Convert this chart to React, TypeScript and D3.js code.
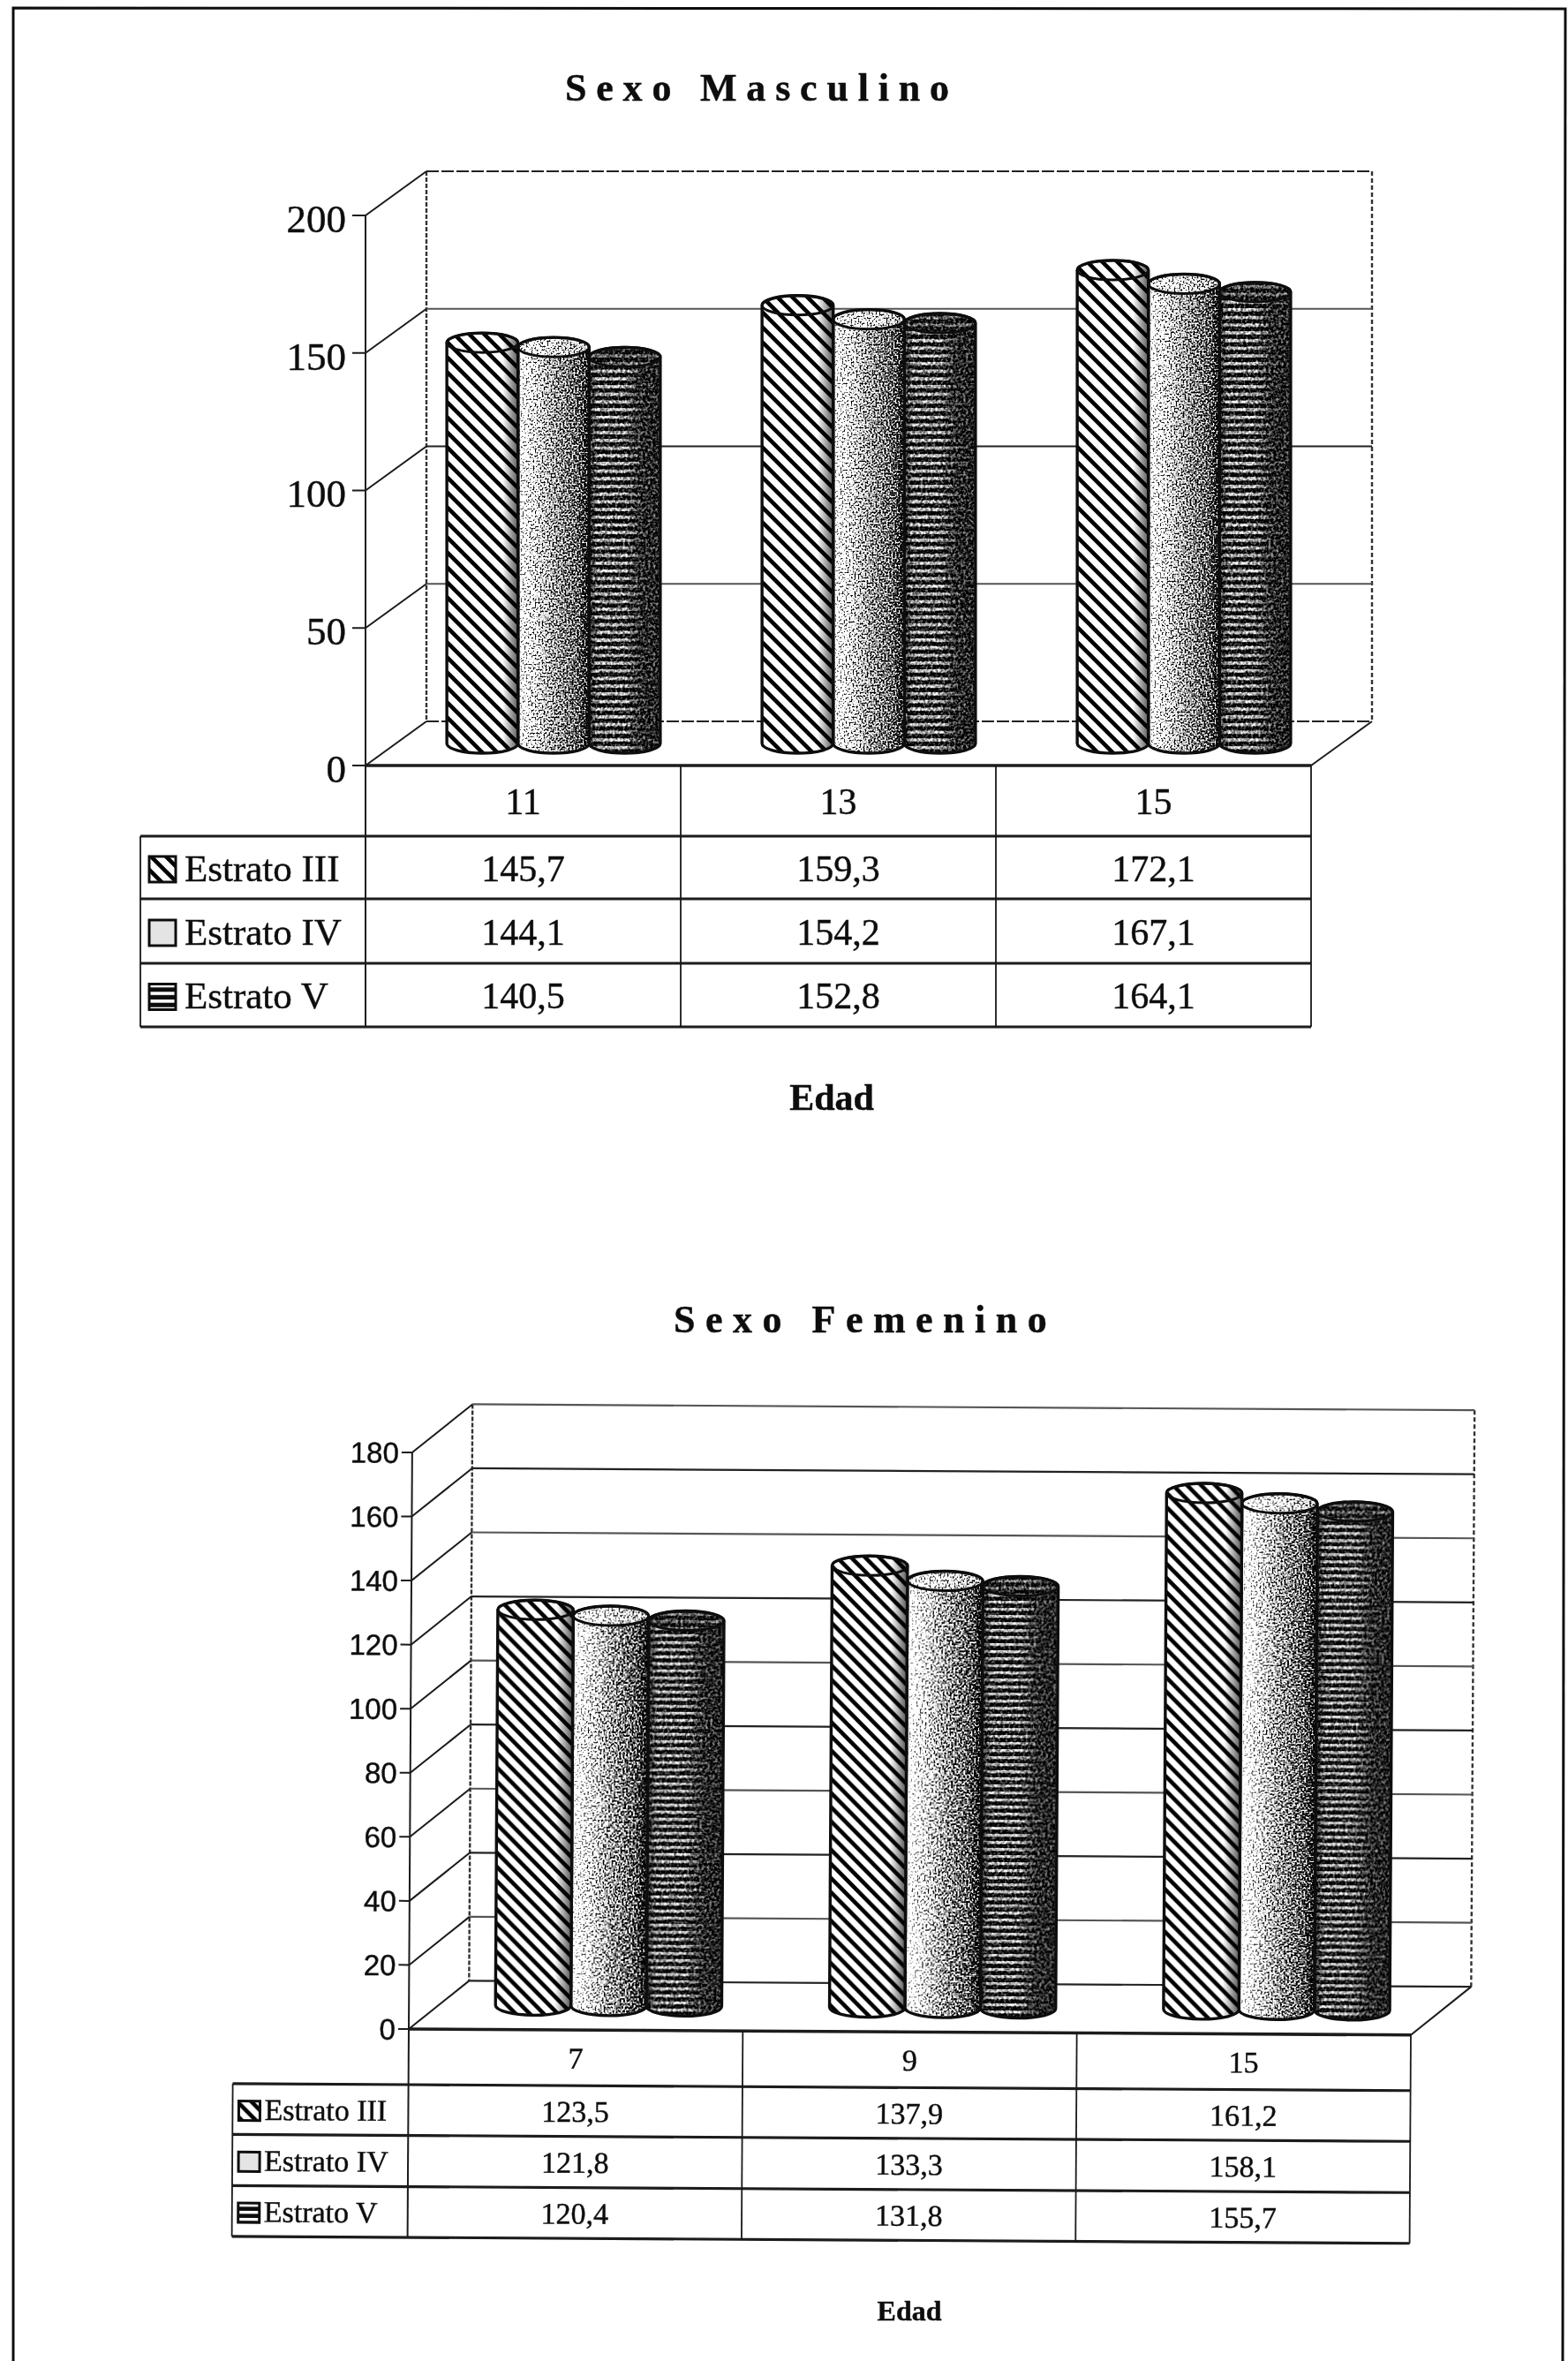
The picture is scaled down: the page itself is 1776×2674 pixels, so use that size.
import React from "react";
import * as d3 from "d3";

const seriesNames = ["Estrato III", "Estrato IV", "Estrato V"];

const maleAges = ["11", "13", "15"];
const maleIII = [145.7, 159.3, 172.1];
const maleIV = [144.1, 154.2, 167.1];
const maleV = [140.5, 152.8, 164.1];
const maleTicks = [0, 50, 100, 150, 200];

const femaleAges = ["7", "9", "15"];
const femaleIII = [123.5, 137.9, 161.2];
const femaleIV = [121.8, 133.3, 158.1];
const femaleV = [120.4, 131.8, 155.7];
const femaleTicks = [0, 20, 40, 60, 80, 100, 120, 140, 160, 180];

const fmt = (v: number) => d3.format(".1f")(v).replace(".", ",");
const SERIF = "'Liberation Serif', serif";
const SANS = "'Liberation Sans', sans-serif";

function cylinderPath(x0: number, x1: number, top: number, base: number, ry: number) {
  const rx = (x1 - x0) / 2;
  return `M${x0},${top}L${x0},${base}A${rx},${ry} 0 0 0 ${x1},${base}L${x1},${top}A${rx},${ry} 0 0 0 ${x0},${top}Z`;
}

function Patterns({ id, hatch, stripe }: any) {
  return (
    <>
      <pattern id={`${id}-hatch`} patternUnits="userSpaceOnUse" width={hatch} height={hatch}>
        <rect width={hatch} height={hatch} fill="#fff" />
        <path
          d={`M${-hatch},0L${hatch * 2},${hatch * 3}M0,${-hatch}L${hatch * 2},${hatch}M${-hatch},${-hatch}L${hatch},${hatch}`}
          stroke="#000"
          strokeWidth={4.6}
        />
      </pattern>
      <pattern id={`${id}-stripe`} patternUnits="userSpaceOnUse" width={8} height={stripe}>
        <rect width={8} height={stripe} fill="#0c0c0c" />
        <rect y={1} width={8} height={stripe * 0.42} fill="#fff" />
      </pattern>
    </>
  );
}

function Cylinder({ id, kind, x0, x1, top, base, ry, clip }: any) {
  const w = x1 - x0;
  const h = base - top + ry * 2 + 4;
  const path = cylinderPath(x0, x1, top, base, ry);
  const rx = w / 2;
  const cx = (x0 + x1) / 2;
  const stroke = "#111";
  const rectProps = { x: x0, y: top - ry - 2, width: w, height: h };
  const capProps = { x: x0, y: top - ry - 2, width: w, height: ry * 2 + 4 };
  return (
    <g>
      <clipPath id={clip}>
        <path d={path} />
      </clipPath>
      <clipPath id={`${clip}-cap`}>
        <ellipse cx={cx} cy={top} rx={rx} ry={ry} />
      </clipPath>
      <g clipPath={`url(#${clip})`}>
        {kind === 0 && (
          <>
            <rect {...rectProps} fill={`url(#${id}-hatch)`} />
            <rect {...rectProps} fill="url(#shadeHatch)" />
          </>
        )}
        {kind === 1 && <rect {...rectProps} fill="url(#shadeDots)" filter="url(#stipple)" />}
        {kind === 2 && (
          <g filter="url(#stippleSoft)">
            <rect {...rectProps} fill={`url(#${id}-stripe)`} />
            <rect {...rectProps} fill="url(#shadeStripe)" />
          </g>
        )}
      </g>
      <g clipPath={`url(#${clip}-cap)`}>
        {kind === 0 && (
          <>
            <rect {...capProps} fill={`url(#${id}-hatch)`} />
            <rect {...capProps} fill="url(#shadeHatch)" />
          </>
        )}
        {kind === 1 && <rect {...capProps} fill="url(#capDots)" filter="url(#stipple)" />}
        {kind === 2 && (
          <g filter="url(#stippleSoft)">
            <rect {...capProps} fill={`url(#${id}-stripe)`} />
            <rect {...capProps} fill="#222" fillOpacity={0.62} />
          </g>
        )}
      </g>
      <ellipse cx={cx} cy={top} rx={rx} ry={ry} fill="none" stroke={stroke} strokeWidth={3} />
      <path d={path} fill="none" stroke={stroke} strokeWidth={3.4} />
    </g>
  );
}

function Swatch({ id, kind, x, y, w, h }: any) {
  const fill = kind === 0 ? `url(#${id}-hatch)` : kind === 1 ? "#e4e4e4" : `url(#${id}-stripe)`;
  return <rect x={x} y={y} width={w} height={h} fill={fill} stroke="#111" strokeWidth={3} />;
}

function Chart({ id, ages, rows, ticks, g, transform }: any) {
  const y = d3.scaleLinear().domain([0, ticks[ticks.length - 1]]).range([g.y0, g.yTop]);
  const { dx, dy } = g;
  const xFront = d3.scaleBand<string>().domain(ages).range([g.xL, g.xR]);
  const xCyl = d3
    .scaleBand<string>()
    .domain(ages)
    .range([g.xL + dx / 2 + g.shift, g.xR + dx / 2 + g.shift]);
  const xSub = d3
    .scaleBand<string>()
    .domain(seriesNames)
    .range([0, xCyl.bandwidth()])
    .paddingInner(0)
    .paddingOuter(0.715);
  const lineCol = "#1a1a1a";
  return (
    <g transform={transform}>
      {/* back wall and floor */}
      <g fill="none" stroke={lineCol}>
        <path d={`M${g.xL + dx},${y(ticks[ticks.length - 1]) + dy}V${g.y0 + dy}`} strokeWidth={2.4} strokeDasharray="5 2" stroke="#333" />
        <path d={`M${g.xR + dx},${y(ticks[ticks.length - 1]) + dy}V${g.y0 + dy}`} strokeWidth={2.4} strokeDasharray="5 3" stroke="#333" />
        {ticks.map((t: number, i: number) => (
          <g key={t}>
            <path
              d={`M${g.xL + dx},${y(t) + dy}H${g.xR + dx}`}
              strokeWidth={2.2}
              stroke={i % 2 === 0 ? "#222" : "#555"}
              strokeDasharray={id === "m" && (t === 0 || t === 200) ? "14 3" : undefined}
            />
            <path d={`M${g.xL},${y(t)}L${g.xL + dx},${y(t) + dy}`} strokeWidth={2} />
            <path d={`M${g.xL - g.tick},${y(t)}H${g.xL}`} strokeWidth={2} />
            <text
              x={g.labelX}
              y={y(t)}
              dy={g.labelDy}
              textAnchor="end"
              fontFamily={g.axisFont}
              fontSize={g.axisSize}
              fill="#111"
            >
              {t}
            </text>
          </g>
        ))}
        <path d={`M${g.xR},${g.y0}L${g.xR + dx},${g.y0 + dy}`} strokeWidth={2} />
      </g>

      {/* cylinders, the later series behind the earlier ones */}
      {ages.map((age: string, c: number) => (
        <g key={age}>
          {[2, 1, 0].map((s) => {
            const x0 = (xCyl(age) as number) + (xSub(seriesNames[s]) as number);
            return (
              <Cylinder
                key={s}
                id={id}
                kind={s}
                clip={`${id}-clip-${c}-${s}`}
                x0={x0}
                x1={x0 + xSub.bandwidth()}
                top={y(rows[s][c]) + dy / 2}
                base={g.y0 + dy / 2}
                ry={g.ry}
              />
            );
          })}
        </g>
      ))}

      {/* data table */}
      <g stroke={lineCol} fill="none">
        <path d={`M${g.xL},${g.yTop}V${g.rowY[4]}`} strokeWidth={2} />
        <path d={`M${g.xL},${g.y0}H${g.xR}`} strokeWidth={3.6} />
        <path d={`M${g.xL},${g.rowY[1]}H${g.xR}`} strokeWidth={3.2} />
        {[2, 3, 4].map((i) => (
          <path key={i} d={`M${g.tableL},${g.rowY[i]}H${g.xR}`} strokeWidth={3.2} />
        ))}
        <path d={`M${g.tableL},${g.rowY[1]}H${g.xL}`} strokeWidth={3.2} />
        <path d={`M${g.tableL},${g.rowY[1]}V${g.rowY[4]}`} strokeWidth={1.8} />
        {ages.map((age: string) => (
          <path
            key={age}
            d={`M${(xFront(age) as number) + xFront.bandwidth()},${g.y0}V${g.rowY[4]}`}
            strokeWidth={1.8}
          />
        ))}
      </g>
      <g fontFamily={SERIF} fontSize={g.tableSize} fill="#111" textAnchor="middle">
        {ages.map((age: string) => (
          <text
            key={age}
            x={(xFront(age) as number) + xFront.bandwidth() / 2}
            y={(g.rowY[0] + g.rowY[1]) / 2}
            dy=".36em"
          >
            {age}
          </text>
        ))}
        {rows.map((row: number[], s: number) =>
          row.map((v: number, c: number) => (
            <text
              key={`${s}-${c}`}
              x={(xFront(ages[c]) as number) + xFront.bandwidth() / 2}
              y={(g.rowY[s + 1] + g.rowY[s + 2]) / 2}
              dy=".36em"
            >
              {fmt(v)}
            </text>
          ))
        )}
      </g>
      {seriesNames.map((name, s) => {
        const mid = (g.rowY[s + 1] + g.rowY[s + 2]) / 2;
        return (
          <g key={name}>
            <Swatch id={id} kind={s} x={g.swatchX} y={mid - g.swatchH / 2 + 2} w={g.swatchW} h={g.swatchH} />
            <text
              x={g.legendX}
              y={mid}
              dy=".36em"
              fontFamily={SERIF}
              fontSize={g.legendSize}
              fill="#111"
            >
              {name}
            </text>
          </g>
        );
      })}
    </g>
  );
}

const maleGeom = {
  xL: 414, xR: 1485, y0: 867, yTop: 244, dx: 69, dy: -50, ry: 11, tick: 15, shift: 0,
  labelX: 392, labelDy: ".42em", axisFont: SERIF, axisSize: 45,
  rowY: [867, 947, 1018, 1091, 1163], tableL: 159, tableSize: 42, legendSize: 43,
  swatchX: 169, swatchW: 30, swatchH: 29, legendX: 209,
};
const femaleGeom = {
  xL: 463, xR: 1598, y0: 2298, yTop: 1645, dx: 68, dy: -55, ry: 11, tick: 12, shift: 3,
  labelX: 448, labelDy: ".36em", axisFont: SANS, axisSize: 33,
  rowY: [2298, 2361, 2418.5, 2476.5, 2534], tableL: 264, tableSize: 34, legendSize: 34,
  swatchX: 271, swatchW: 24, swatchH: 22, legendX: 300,
};

export default function App() {
  return (
    <svg
      width={1776}
      height={2674}
      viewBox="0 0 1776 2674"
      style={{ position: "absolute", left: 0, top: 0, display: "block", background: "#fff" }}
    >
      <defs>
        <style>{`text{stroke:#111;stroke-width:.45px}`}</style>
        <filter id="scan" filterUnits="userSpaceOnUse" x={0} y={0} width={1776} height={2674}>
          <feGaussianBlur stdDeviation={0.75} />
        </filter>
        <filter id="stipple" colorInterpolationFilters="sRGB" x="0" y="0" width="1" height="1">
          <feTurbulence type="fractalNoise" baseFrequency="0.5" numOctaves={2} seed={4} result="n" />
          <feColorMatrix in="n" type="matrix" values="1 0 0 0 0 1 0 0 0 0 1 0 0 0 0 0 0 0 0 1" result="g" />
          <feComponentTransfer in="g" result="c">
            <feFuncR type="linear" slope={2.6} intercept={-0.8} />
            <feFuncG type="linear" slope={2.6} intercept={-0.8} />
            <feFuncB type="linear" slope={2.6} intercept={-0.8} />
          </feComponentTransfer>
          <feComposite in="SourceGraphic" in2="c" operator="arithmetic" k1={0} k2={1} k3={1} k4={-0.5} result="m" />
          <feComponentTransfer in="m">
            <feFuncR type="linear" slope={2} intercept={-0.5} />
            <feFuncG type="linear" slope={2} intercept={-0.5} />
            <feFuncB type="linear" slope={2} intercept={-0.5} />
            <feFuncA type="linear" slope={0} intercept={1} />
          </feComponentTransfer>
        </filter>
        <filter id="stippleSoft" colorInterpolationFilters="sRGB" x="0" y="0" width="1" height="1">
          <feTurbulence type="fractalNoise" baseFrequency="0.35" numOctaves={2} seed={9} result="n" />
          <feColorMatrix in="n" type="matrix" values="1 0 0 0 0 1 0 0 0 0 1 0 0 0 0 0 0 0 0 1" result="g" />
          <feComposite in="SourceGraphic" in2="g" operator="arithmetic" k1={0} k2={1} k3={1.6} k4={-0.85} />
        </filter>
        <linearGradient id="shadeHatch" x1="0" x2="1" y1="0" y2="0">
          <stop offset="0.78" stopColor="#000" stopOpacity={0} />
          <stop offset="1" stopColor="#000" stopOpacity={0.65} />
        </linearGradient>
        <linearGradient id="shadeDots" x1="0" x2="1" y1="0" y2="0">
          <stop offset="0" stopColor="#f2f2f2" />
          <stop offset="0.15" stopColor="#cccccc" />
          <stop offset="0.5" stopColor="#939393" />
          <stop offset="0.85" stopColor="#6a6a6a" />
          <stop offset="1" stopColor="#383838" />
        </linearGradient>
        <linearGradient id="capDots" x1="0" x2="1" y1="0" y2="0">
          <stop offset="0" stopColor="#d0d0d0" />
          <stop offset="1" stopColor="#a0a0a0" />
        </linearGradient>
        <linearGradient id="shadeStripe" x1="0" x2="1" y1="0" y2="0">
          <stop offset="0" stopColor="#222" stopOpacity={0.92} />
          <stop offset="0.12" stopColor="#222" stopOpacity={0.25} />
          <stop offset="0.5" stopColor="#222" stopOpacity={0.25} />
          <stop offset="0.75" stopColor="#2a2a2a" stopOpacity={0.88} />
          <stop offset="1" stopColor="#2a2a2a" stopOpacity={1} />
        </linearGradient>
        <Patterns id="m" hatch={17} stripe={8.7} />
        <Patterns id="f" hatch={16} stripe={8} />
      </defs>
      <g filter="url(#scan)">
        <path d="M15,2674V9L1773,10L1770,2674" fill="none" stroke="#111" strokeWidth={3} />
        <text
          x={640}
          y={114}
          fontFamily={SERIF}
          fontWeight="bold"
          fontSize={44}
          letterSpacing={10.8}
          fill="#111"
        >
          Sexo Masculino
        </text>
        <Chart id="m" ages={maleAges} rows={[maleIII, maleIV, maleV]} ticks={maleTicks} g={maleGeom} />
        <text x={942} y={1257} textAnchor="middle" fontFamily={SERIF} fontWeight="bold" fontSize={42} fill="#111">
          Edad
        </text>
        <text
          x={763}
          y={1509}
          fontFamily={SERIF}
          fontWeight="bold"
          fontSize={44}
          letterSpacing={11.5}
          fill="#111"
        >
          Sexo Femenino
        </text>
        <Chart
          id="f"
          ages={femaleAges}
          rows={[femaleIII, femaleIV, femaleV]}
          ticks={femaleTicks}
          g={femaleGeom}
          transform="rotate(0.34 463 2298)"
        />
        <text x={1030} y={2628} textAnchor="middle" fontFamily={SERIF} fontWeight="bold" fontSize={32} fill="#111">
          Edad
        </text>
      </g>
    </svg>
  );
}
